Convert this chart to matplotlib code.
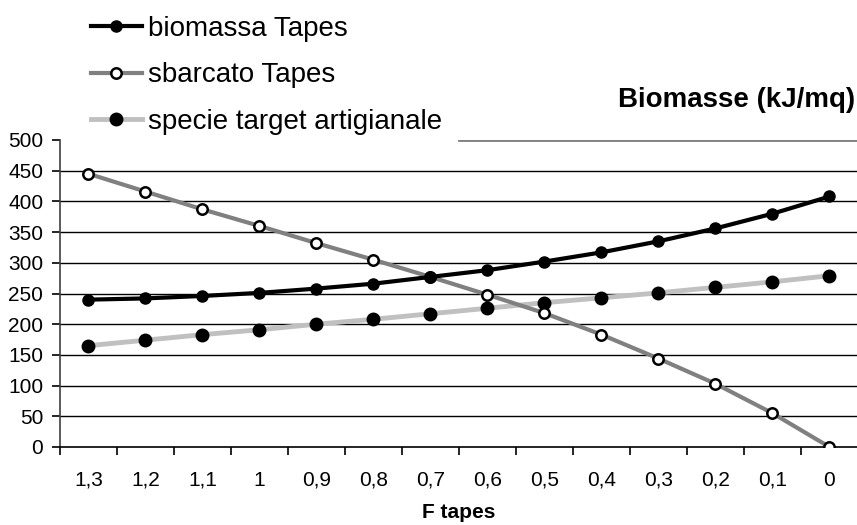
import matplotlib
matplotlib.use("Agg")
import matplotlib.pyplot as plt
import numpy as np

plt.rcParams['font.family'] = ['Liberation Sans', 'DejaVu Sans']

# F tapes values on the x axis (decreasing)
f_labels = ['1,3', '1,2', '1,1', '1', '0,9', '0,8', '0,7', '0,6', '0,5', '0,4', '0,3', '0,2', '0,1', '0']

biomassa_tapes = [240, 242, 246, 251, 258, 266, 277, 288, 302, 317, 335, 356, 380, 408]
sbarcato_tapes = [445, 416, 387, 360, 332, 305, 277, 248, 218, 183, 144, 103, 55, 0]
specie_target = [165, 174, 183, 191, 200, 208, 217, 226, 235, 243, 251, 260, 269, 279]

y_ticks = [0, 50, 100, 150, 200, 250, 300, 350, 400, 450, 500]

fig = plt.figure(figsize=(8.57, 5.25), dpi=100)
ax = fig.add_axes([60 / 857, 1 - 447 / 525, 798 / 857, 307 / 525])

x = np.arange(len(f_labels))

# gridlines (top one is grey and only on the right part)
for v in y_ticks[1:-1]:
    ax.axhline(v, color='black', lw=1.0, zorder=1)
ax.axhline(500, xmin=0.5, xmax=1.0, color='#808080', lw=2.0, zorder=1)

ax.plot(x, specie_target, color='#c0c0c0', lw=3.5, marker='o', ms=9,
        mfc='black', mec='black', zorder=3, label='specie target artigianale')
ax.plot(x, sbarcato_tapes, color='#808080', lw=3.0, marker='o', ms=7.5,
        mfc='white', mec='black', mew=1.8, zorder=4, label='sbarcato Tapes')
ax.plot(x, biomassa_tapes, color='black', lw=3.0, marker='o', ms=8,
        mfc='black', mec='black', zorder=5, label='biomassa Tapes')

ax.set_xlim(-0.5, len(f_labels) - 0.5)
ax.set_ylim(0, 500)
ax.set_yticks(y_ticks)
ax.set_yticklabels([str(v) for v in y_ticks], fontsize=15)

# category labels at centres, tick marks at boundaries
ax.set_xticks(np.arange(-0.5, len(f_labels), 1.0))
ax.set_xticklabels([])
ax.set_xticks(x, minor=True)
ax.set_xticklabels(f_labels, minor=True, fontsize=15)
ax.tick_params(axis='x', which='major', length=6, width=1.2, direction='out')
ax.tick_params(axis='x', which='minor', length=0, pad=17)
ax.tick_params(axis='y', length=6, width=1.2, direction='out', pad=6)

ax.spines['top'].set_visible(False)
ax.spines['right'].set_visible(False)
ax.spines['left'].set_color('#404040')
ax.spines['left'].set_linewidth(1.2)
ax.spines['bottom'].set_linewidth(1.2)

# axis title placed in figure coords so it sits near the bottom edge
fig.text(459 / 857, 1 - 518 / 525, 'F tapes', fontsize=15, fontweight='bold',
         ha='center', va='baseline')

fig.text(0.998, 1 - 100 / 525, 'Biomasse (kJ/mq)', fontsize=20, fontweight='bold',
         ha='right', va='center')

handles, labels = ax.get_legend_handles_labels()
order = [2, 1, 0]
fig.legend([handles[i] for i in order], [labels[i] for i in order],
           loc='upper left', bbox_to_anchor=(91 / 857, 1 - 16 / 525),
           frameon=False, fontsize=20, handlelength=1.83, handletextpad=0.22,
           labelspacing=0.73, borderpad=0, borderaxespad=0)

fig.savefig('out.png', dpi=100)
